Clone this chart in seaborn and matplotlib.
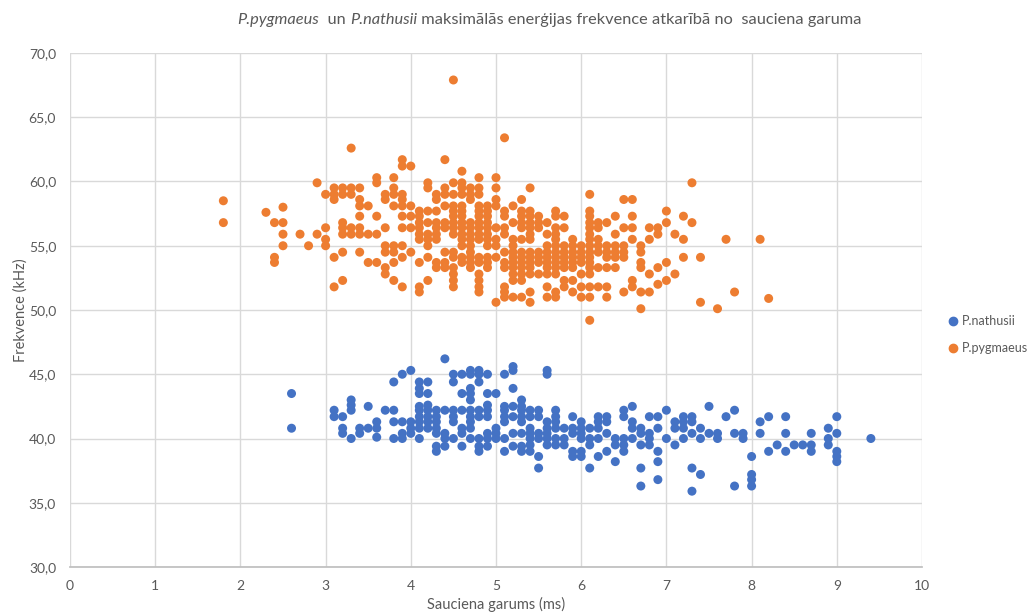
import seaborn as sns
import matplotlib.pyplot as plt
import pandas as pd
from matplotlib.ticker import FuncFormatter, MultipleLocator

# call length (ms) columns and the frequencies found in each column (kHz)
pyg_cols = [1.8, 2.3, 2.4, 2.5, 2.7, 2.8, 2.9, 3.0, 3.1, 3.2, 3.3, 3.4, 3.5, 3.6, 3.7, 3.8, 3.9, 4.0,
            4.1, 4.2, 4.3, 4.4, 4.5, 4.6, 4.7, 4.8, 4.9, 5.0, 5.1, 5.2, 5.3, 5.4, 5.5, 5.6, 5.7, 5.8,
            5.9, 6.0, 6.1, 6.2, 6.3, 6.4, 6.5, 6.6, 6.7, 6.8, 6.9, 7.0, 7.1, 7.2, 7.3, 7.4, 7.6, 7.7,
            7.8, 8.1, 8.2]
pyg_vals = [
    [58.5, 56.8], [57.6], [56.8, 54.1, 53.7], [58.0, 56.8, 55.9, 55.0], [55.9], [55.0],
    [59.9, 55.9], [59.0, 56.4, 55.5, 55.0], [59.5, 59.0, 58.6, 54.1, 51.8],
    [59.5, 59.0, 56.8, 56.4, 55.9, 54.5, 52.3], [62.6, 59.5, 59.0, 56.4, 55.9],
    [59.5, 58.6, 58.1, 57.3, 56.4, 55.9, 54.5], [58.1, 55.9, 53.7], [60.3, 59.9, 57.3, 55.9, 53.7],
    [59.0, 58.6, 56.4, 55.0, 54.5, 53.3, 52.8], [60.3, 59.5, 59.0, 58.1, 55.0, 54.5, 53.7, 52.3],
    [61.7, 61.2, 59.0, 58.6, 58.1, 57.3, 56.4, 55.0, 54.1, 51.8], [61.2, 58.1, 57.3, 56.4, 54.5],
    [57.7, 57.3, 56.8, 56.4, 55.9, 55.5, 53.7, 51.8, 51.4],
    [59.9, 59.5, 57.7, 56.8, 55.9, 55.5, 55.0, 54.1, 52.3],
    [59.0, 58.6, 57.7, 56.8, 56.4, 55.9, 55.5, 53.7, 53.3],
    [61.7, 59.5, 59.0, 58.1, 56.8, 56.4, 54.5, 53.7, 53.3],
    [67.9, 59.9, 59.0, 58.1, 57.7, 57.3, 56.8, 56.4, 55.9, 54.5, 54.1, 53.3, 52.8, 52.3, 51.8],
    [60.8, 59.9, 59.5, 59.0, 58.1, 57.7, 57.3, 56.8, 56.4, 55.9, 55.5, 55.0, 54.1, 53.7],
    [59.5, 59.0, 58.6, 56.8, 56.4, 55.9, 55.5, 55.0, 54.5, 54.1, 53.7, 53.3],
    [60.3, 59.5, 59.0, 58.1, 57.7, 57.3, 56.8, 56.4, 55.9, 55.5, 54.1, 53.7, 52.8, 52.3, 51.8, 51.4],
    [58.1, 57.7, 57.3, 56.8, 56.4, 55.9, 55.5, 55.0, 54.1, 53.7, 53.3],
    [60.3, 59.5, 58.6, 58.1, 56.4, 55.5, 55.0, 54.1, 50.6],
    [63.4, 57.7, 57.3, 56.4, 55.9, 54.5, 53.7, 53.3, 51.8, 51.4, 51.0],
    [58.1, 56.8, 55.5, 55.0, 54.5, 54.1, 53.7, 53.3, 52.8, 52.3, 51.0],
    [58.6, 57.7, 57.3, 56.8, 56.4, 55.5, 54.5, 54.1, 53.7, 53.3, 52.8, 52.3, 51.0],
    [59.5, 57.7, 57.3, 56.8, 56.4, 55.9, 55.5, 54.5, 54.1, 53.7, 53.3, 52.8, 51.4, 50.6],
    [57.3, 56.8, 56.4, 54.5, 54.1, 53.7, 52.8],
    [56.8, 55.9, 55.0, 54.5, 54.1, 53.7, 53.3, 52.8, 51.8, 51.0],
    [57.7, 57.3, 56.4, 55.9, 55.5, 55.0, 54.5, 54.1, 53.7, 53.3, 52.8, 51.4, 51.0],
    [57.3, 56.4, 55.0, 54.5, 54.1, 53.7, 53.3, 52.3, 51.8],
    [55.5, 55.0, 54.5, 54.1, 53.7, 53.3, 52.3, 51.4],
    [55.0, 54.5, 54.1, 53.7, 52.8, 51.8, 51.0],
    [59.0, 57.7, 57.3, 56.8, 56.4, 55.9, 55.5, 55.0, 54.5, 54.1, 53.7, 53.3, 52.8, 51.8, 51.0, 49.2],
    [56.8, 56.4, 55.5, 55.0, 54.5, 53.3, 51.8], [56.8, 55.0, 54.5, 54.1, 53.3, 51.8, 51.0],
    [57.3, 55.9, 55.0, 54.5, 54.1, 53.3], [58.6, 56.4, 55.0, 54.5, 54.1, 51.4],
    [58.6, 57.3, 56.4, 55.5, 52.3, 51.8], [55.0, 54.5, 53.7, 53.3, 51.4, 50.1],
    [56.4, 55.5, 52.8, 51.4], [56.4, 55.9, 53.3, 52.0], [57.7, 56.8, 53.7, 52.3], [55.9, 52.8],
    [57.3, 55.5, 54.1], [59.9, 56.8], [54.1, 50.6], [50.1], [55.5], [51.4], [55.5], [50.9],
]

nat_cols = [2.6, 3.1, 3.2, 3.3, 3.4, 3.5, 3.6, 3.7, 3.8, 3.9, 4.0, 4.1, 4.2, 4.3, 4.4, 4.5, 4.6, 4.7,
            4.8, 4.9, 5.0, 5.1, 5.2, 5.3, 5.4, 5.5, 5.6, 5.7, 5.8, 5.9, 6.0, 6.1, 6.2, 6.3, 6.4, 6.5,
            6.6, 6.7, 6.8, 6.9, 7.0, 7.1, 7.2, 7.3, 7.4, 7.5, 7.6, 7.7, 7.8, 7.9, 8.0, 8.1, 8.2, 8.3,
            8.4, 8.5, 8.6, 8.7, 8.9, 9.0, 9.4]
nat_vals = [
    [43.5, 40.8], [42.2, 41.7], [41.7, 40.8, 40.4], [43.0, 42.6, 42.2, 40.0], [40.8, 40.4],
    [42.5, 40.8], [41.3, 40.8, 40.1], [42.2], [44.4, 42.2, 41.3, 40.0], [45.0, 41.3, 40.4, 40.0],
    [45.3, 41.3, 40.8, 40.4], [44.4, 43.9, 43.5, 42.5, 42.2, 41.7, 41.3, 40.8, 40.0],
    [44.4, 43.5, 42.6, 42.2, 41.7, 41.3, 40.8], [42.2, 41.7, 41.3, 40.8, 40.4, 39.4, 39.0],
    [46.2, 42.2, 40.4, 40.0, 39.4], [45.0, 44.4, 42.2, 41.7, 41.3, 40.0],
    [45.0, 43.5, 42.2, 40.8, 40.4, 39.4],
    [45.3, 45.0, 43.9, 43.5, 43.0, 42.2, 41.7, 41.3, 40.8, 40.0],
    [45.3, 45.0, 44.4, 42.2, 41.7, 40.0, 39.4, 39.0],
    [45.0, 43.5, 42.6, 42.2, 41.7, 40.4, 40.0, 39.4], [43.5, 40.8, 40.4, 40.0],
    [45.0, 42.5, 42.2, 41.7, 41.3, 40.0, 39.0], [45.6, 45.3, 43.9, 42.5, 41.7, 40.4, 39.4],
    [43.0, 42.5, 42.2, 41.7, 41.3, 40.4, 39.4, 39.0], [42.2, 41.7, 40.8, 40.4, 40.0, 39.5, 39.0],
    [42.2, 41.7, 40.4, 40.0, 38.6, 37.7], [45.3, 45.0, 41.3, 40.8, 40.4, 40.0, 39.5],
    [42.2, 41.7, 41.3, 40.8, 40.0, 39.5], [40.8, 40.0, 39.5], [41.7, 40.8, 40.4, 39.0, 38.6],
    [41.3, 40.8, 40.4, 40.0, 39.0, 38.6], [40.8, 40.0, 39.5, 37.7], [41.7, 41.3, 40.8, 40.0, 38.6],
    [41.7, 41.3, 40.4, 39.0], [40.0, 39.5, 38.2], [42.2, 41.7, 40.0, 39.5, 39.0],
    [42.5, 41.3, 40.8, 40.0], [40.8, 40.4, 39.5, 37.7, 36.3], [41.7, 40.4, 40.0, 39.5],
    [41.7, 40.8, 39.0, 38.2, 36.8], [42.2, 40.0], [41.3, 40.8, 39.5], [41.7, 41.3, 40.8, 40.0],
    [41.7, 41.3, 40.4, 37.7, 35.9], [40.8, 40.0, 37.2], [42.5, 40.4], [40.4, 40.0], [41.7],
    [42.2, 40.4, 36.3], [40.4, 40.0], [38.6, 37.2, 36.8, 36.3], [41.3, 40.4], [41.7, 39.0],
    [39.5], [41.7, 40.4, 39.0], [39.5], [39.5], [40.4, 39.5, 39.0], [40.8, 40.0, 39.5],
    [41.7, 40.4, 39.0, 38.6, 38.2], [40.0],
]

species = ["P.nathusii", "P.pygmaeus"]
colors = ["#4472C4", "#ED7D31"]

rows = []
for name, cols, vals in [("P.nathusii", nat_cols, nat_vals), ("P.pygmaeus", pyg_cols, pyg_vals)]:
    for c, ys in zip(cols, vals):
        for v in ys:
            rows.append({"garums": c, "frekvence": v, "suga": name})
df = pd.DataFrame(rows)

sns.set_theme(style="white")
plt.rcParams["font.family"] = ["Lato", "DejaVu Sans"]
grey = "#595959"

fig = plt.figure(figsize=(10.3, 6.15), dpi=100)
ax = fig.add_axes([70 / 1030, 1 - 567 / 615, 852 / 1030, 514 / 615])
sns.scatterplot(data=df, x="garums", y="frekvence", hue="suga", hue_order=species,
                palette=colors, s=42, linewidth=0, ax=ax, legend=False, zorder=3)

ax.set_xlim(0, 10)
ax.set_ylim(30, 70)
ax.xaxis.set_major_locator(MultipleLocator(1))
ax.yaxis.set_major_locator(MultipleLocator(5))
ax.yaxis.set_major_formatter(FuncFormatter(lambda v, p: f"{v:.1f}".replace(".", ",")))
ax.grid(True, color="#d9d9d9", linewidth=1)
for s in ["top", "right", "left"]:
    ax.spines[s].set_visible(False)
ax.spines["bottom"].set_color("#bfbfbf")
ax.tick_params(axis="x", length=0, labelsize=10, labelcolor=grey, pad=9)
ax.tick_params(axis="y", length=0, labelsize=10, labelcolor=grey, pad=10)
ax.set_xlabel("Sauciena garums (ms)", fontsize=10.5, color=grey, labelpad=4)
ax.set_ylabel("Frekvence (kHz)", fontsize=10.5, color=grey, labelpad=1)

# legend on the right
for i, (name, col) in enumerate(zip(species, colors)):
    yy = 1 - (321 + 27 * i) / 615
    fig.lines.append(plt.Line2D([953 / 1030], [yy], marker="o", color=col, markersize=6,
                                linestyle="", transform=fig.transFigure))
    fig.text(962 / 1030, yy, name, fontsize=9, color=grey, va="center")

# title with italic species names, fitted to the width seen in the reference
parts = [("P.pygmaeus", "italic"), ("  un ", "normal"), ("P.nathusii", "italic"),
         (" maksimālās enerģijas frekvence atkarībā no  sauciena garuma", "normal")]
fig.canvas.draw()
r = fig.canvas.get_renderer()
size = 15
total = 0
for txt, st in parts:
    t = fig.text(0, 0, txt.replace(" ", "\u00a0"), fontsize=size, fontstyle=st)
    total += t.get_window_extent(r).width
    t.remove()
size = size * 623 / total
x0 = 237
for txt, st in parts:
    t = fig.text(x0 / 1030, 1 - 20 / 615, txt.replace(" ", "\u00a0"), fontsize=size,
                 fontstyle=st, color=grey, va="center")
    x0 += t.get_window_extent(r).width

fig.savefig("out.png", dpi=100)
